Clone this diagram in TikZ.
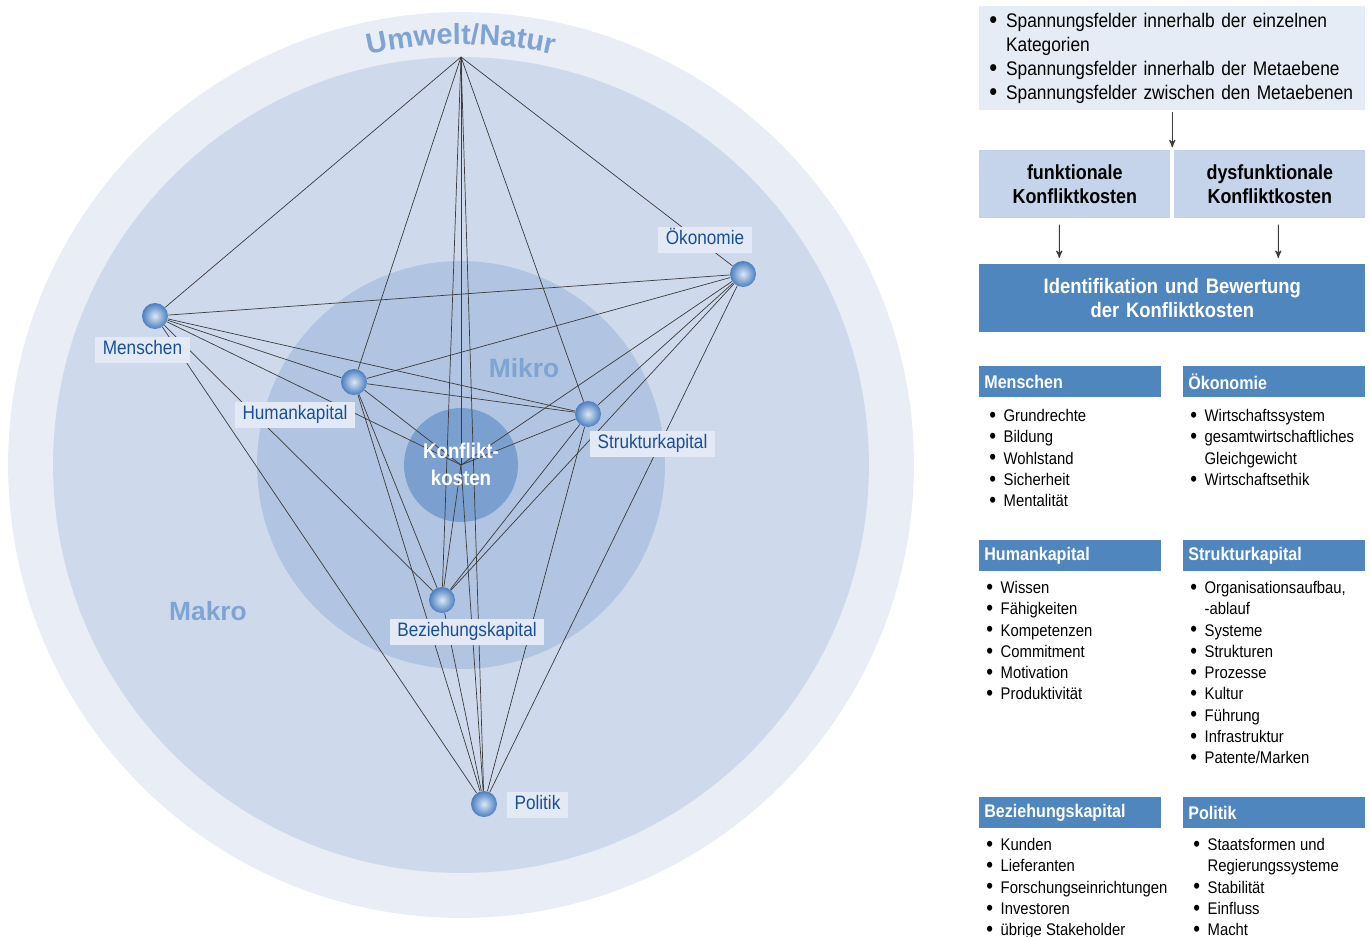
\documentclass[tikz,border=0pt]{standalone}
\usepackage{fontspec}
\setmainfont{Liberation Sans}[FakeStretch=0.88]
\newfontfamily\widefont{Liberation Sans}
\usepackage{tikz}
\usetikzlibrary{arrows,decorations.text}

\definecolor{ringouter}{HTML}{E8EDF6}
\definecolor{ringmakro}{HTML}{CEDAEC}
\definecolor{ringmikro}{HTML}{B1C4E1}
\definecolor{kkfill}{HTML}{7BA0CF}
\definecolor{labelbg}{HTML}{E3EAF5}
\definecolor{labeltext}{HTML}{1A4F94}
\definecolor{ringtext}{HTML}{7FA4D3}
\definecolor{headblue}{HTML}{4F86BE}
\definecolor{topbox}{HTML}{E6ECF5}
\definecolor{midbox}{HTML}{C5D4EA}
\definecolor{edgegray}{HTML}{3C3C3C}
\definecolor{balllight}{HTML}{DCE7F5}
\definecolor{ballblue}{HTML}{4A7EC0}

\newcommand{\itembul}{\makebox[0.85em][l]{\raisebox{-0.05em}{\scalebox{1.3}{\textbullet}}}}
\newcommand{\itemcont}{\hspace*{0.85em}}

\begin{document}
\begin{tikzpicture}[
    x=0.02cm, y=-0.02cm,
    >=stealth',
    edge/.style = {draw=edgegray, line width=0.4pt},
    ball/.style = {circle, minimum size=0.52cm, inner sep=0pt, inner color=balllight, outer color=ballblue},
    lbl/.style = {fill=labelbg, text=labeltext, font=\fontsize{11.1}{13}\selectfont, inner xsep=0.15cm, inner ysep=1pt, minimum height=0.52cm, text height=8pt, text depth=2.4pt},
    ring text/.style = {text=ringtext, font=\widefont\bfseries\fontsize{15}{18}\selectfont},
    cost box/.style = {anchor=north west, fill=midbox, minimum height=1.36cm, text width=3.62cm, inner xsep=0.1cm, align=center, font=\bfseries\fontsize{11.6}{13.66}\selectfont},
    head/.style = {anchor=north west, fill=headblue, text=white, font=\bfseries\fontsize{10.4}{12}\selectfont, text width=3.44cm, inner xsep=0.1cm, minimum height=0.62cm, align=left},
    item list/.style = {anchor=north west, inner sep=0pt, align=left, font=\fontsize{9.6}{12.1}\selectfont},
    arr/.style = {->, draw=edgegray, line width=0.6pt}
]
\useasboundingbox (0,0) rectangle (1370,937);

% Rings
\coordinate (kk) at (461,465);
\coordinate (um) at (461,57);
\fill[ringouter] (kk) circle[radius=9.06cm];
\fill[ringmakro] (kk) circle[radius=8.16cm];
\fill[ringmikro] (kk) circle[radius=4.08cm];
\fill[kkfill] (kk) circle[radius=1.14cm];

\path[decorate, decoration={text along path, text align=center,
    text={|\widefont\bfseries\fontsize{16.5}{18}\selectfont\color{ringtext}|Umwelt/Natur}}]
  (kk) ++(120:8.42cm) arc[start angle=120, end angle=60, radius=8.42cm];
\node[ring text] (mikro) at (524,368) {Mikro};
\node[ring text] (makro) at (208,611) {Makro};

% Nodes
\node[ball] (men) at (155,316) {};
\node[ball] (oek) at (743,274) {};
\node[ball] (hum) at (354,382) {};
\node[ball] (str) at (588,414) {};
\node[ball] (bez) at (442,600) {};
\node[ball] (pol) at (484,804) {};

% Edges from Umwelt/Natur
\draw[edge] (um) -- (men);
\draw[edge] (um) -- (oek);
\draw[edge] (um) -- (hum);
\draw[edge] (um) -- (str);
\draw[edge] (um) -- (bez);
\draw[edge] (um) -- (pol);
\draw[edge] (um) -- (kk);

% Edges from Menschen
\draw[edge] (men) -- (oek);
\draw[edge] (men) -- (hum);
\draw[edge] (men) -- (str);
\draw[edge] (men) -- (bez);
\draw[edge] (men) -- (pol);
\draw[edge] (men) -- (kk);

% Edges from Oekonomie
\draw[edge] (oek) -- (hum);
\draw[edge] (oek) -- (str);
\draw[edge] (oek) -- (bez);
\draw[edge] (oek) -- (pol);
\draw[edge] (oek) -- (kk);

% Edges from Humankapital
\draw[edge] (hum) -- (str);
\draw[edge] (hum) -- (bez);
\draw[edge] (hum) -- (pol);
\draw[edge] (hum) -- (kk);

% Edges from Strukturkapital
\draw[edge] (str) -- (bez);
\draw[edge] (str) -- (pol);
\draw[edge] (str) -- (kk);

% Edges from Beziehungskapital and Politik
\draw[edge] (bez) -- (pol);
\draw[edge] (bez) -- (kk);
\draw[edge] (pol) -- (kk);

% Labels
\node[text=white, align=center, font=\bfseries\fontsize{12.1}{15.4}\selectfont] (kktext) at (461,464) {Konflikt-\\kosten};
\node[lbl] (lmen) at (142.5,350) {Menschen};
\node[lbl] (lhum) at (295,414.5) {Humankapital};
\node[lbl] (loek) at (705,239.5) {Ökonomie};
\node[lbl] (lstr) at (652.5,444) {Strukturkapital};
\node[lbl] (lbez) at (467,631.5) {Beziehungskapital};
\node[lbl] (lpol) at (537.5,805) {Politik};

% Right panel
\node[anchor=north west, fill=topbox, minimum height=2.08cm, text width=7.32cm, inner xsep=0.2cm, align=left,
      font=\fontsize{11.2}{13.66}\selectfont] (spf) at (979,6)
  {\itembul Spannungsfelder innerhalb der einzelnen\\ \itemcont Kategorien\\
   \itembul Spannungsfelder innerhalb der Metaebene\\ \itembul Spannungsfelder zwischen den Metaebenen};
\node[cost box] (func) at (979,150) {funktionale\\Konfliktkosten};
\node[cost box] (dysf) at (1174,150) {dysfunktionale\\Konfliktkosten};
\node[anchor=north west, fill=headblue, text=white, minimum height=1.36cm, text width=7.52cm, inner xsep=0.1cm, align=center,
      font=\bfseries\fontsize{11.9}{13.66}\selectfont] (ident) at (979,264) {Identifikation und Bewertung\\der Konfliktkosten};

\draw[arr, shorten <=1pt, shorten >=1.5pt] (spf.south) -- (spf.south |- func.north);
\draw[arr, shorten <=0.12cm, shorten >=0.12cm] ([xshift=-0.31cm]func.south) -- ([xshift=-2.26cm]ident.north);
\draw[arr, shorten <=0.12cm, shorten >=0.12cm] ([xshift=0.17cm]dysf.south) -- ([xshift=2.12cm]ident.north);

% Categories
\node[head] (hmen) at (979,366) {Menschen};
\node[head] (hoek) at (1183,366) {Ökonomie};
\node[head] (hhum) at (979,540) {Humankapital};
\node[head] (hstr) at (1183,540) {Strukturkapital};
\node[head] (hbez) at (979,797) {Beziehungskapital};
\node[head] (hpol) at (1183,797) {Politik};

\node[item list] (imen) at (989,409) {\itembul Grundrechte\\ \itembul Bildung\\ \itembul Wohlstand\\ \itembul Sicherheit\\ \itembul Mentalität};
\node[item list] (ioek) at (1190,409) {\itembul Wirtschaftssystem\\ \itembul gesamtwirtschaftliches\\ \itemcont Gleichgewicht\\ \itembul Wirtschaftsethik};
\node[item list] (ihum) at (986,581) {\itembul Wissen\\ \itembul Fähigkeiten\\ \itembul Kompetenzen\\ \itembul Commitment\\ \itembul Motivation\\ \itembul Produktivität};
\node[item list] (istr) at (1190,581) {\itembul Organisationsaufbau,\\ \itemcont -ablauf\\ \itembul Systeme\\ \itembul Strukturen\\ \itembul Prozesse\\ \itembul Kultur\\ \itembul Führung\\ \itembul Infrastruktur\\ \itembul Patente/Marken};
\node[item list] (ibez) at (986,838) {\itembul Kunden\\ \itembul Lieferanten\\ \itembul Forschungseinrichtungen\\ \itembul Investoren\\ \itembul übrige Stakeholder};
\node[item list] (ipol) at (1193,838) {\itembul Staatsformen und\\ \itemcont Regierungssysteme\\ \itembul Stabilität\\ \itembul Einfluss\\ \itembul Macht};

\end{tikzpicture}
\end{document}
